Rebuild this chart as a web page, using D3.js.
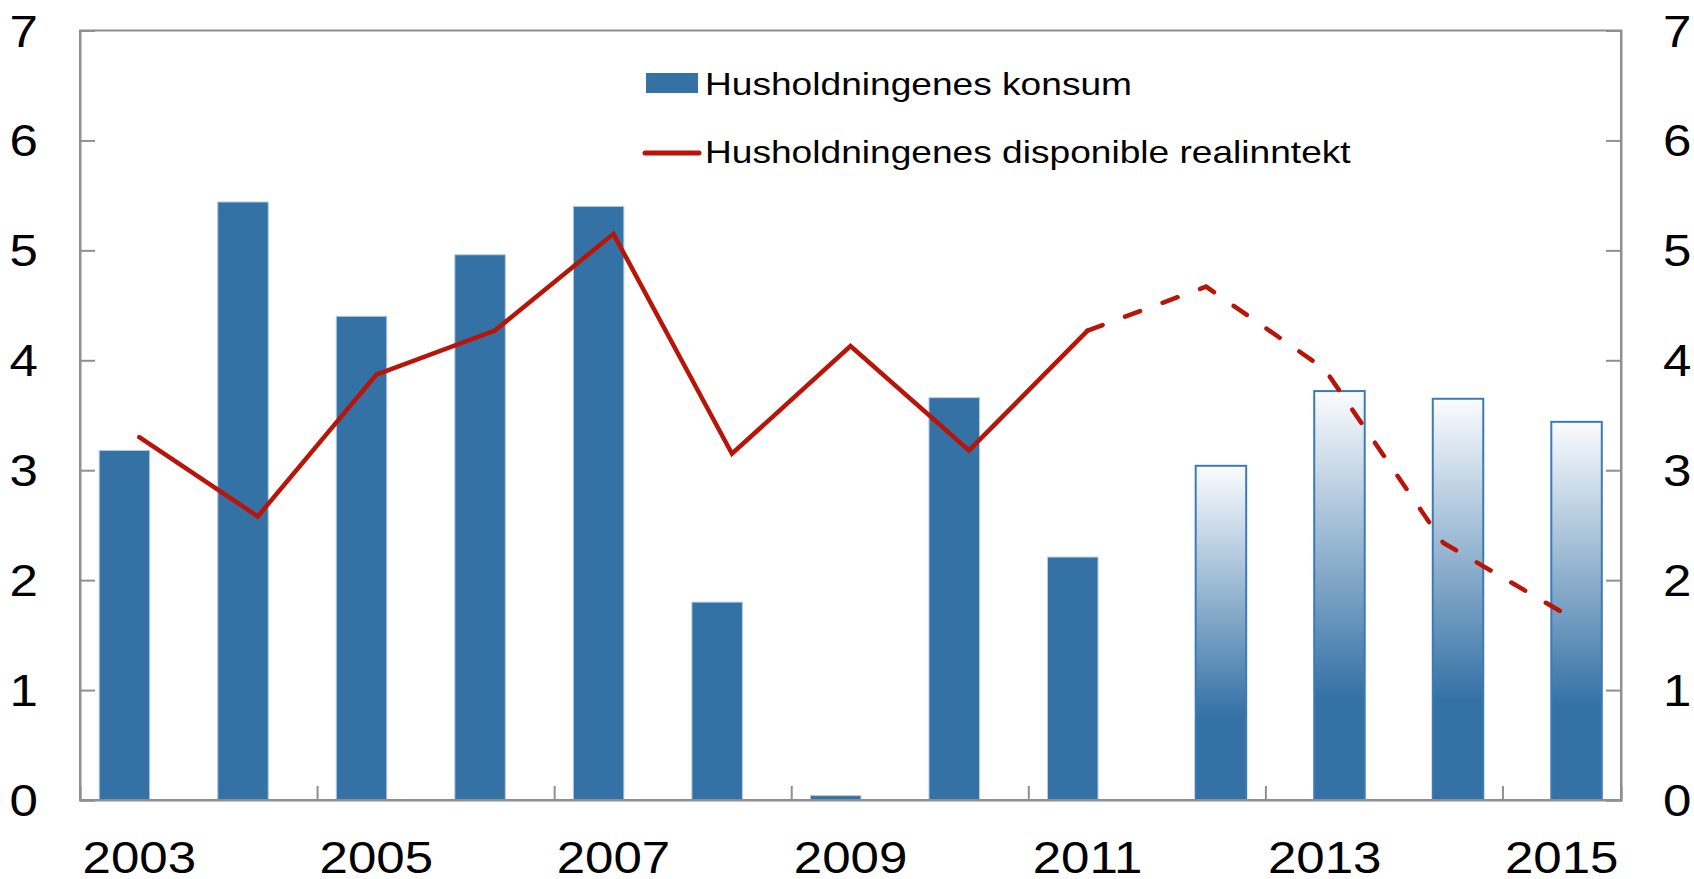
<!DOCTYPE html>
<html>
<head>
<meta charset="utf-8">
<script src="https://cdn.jsdelivr.net/npm/d3@7"></script>
<style>
  body { margin: 0; background: #fff; }
  text { font-family: "Liberation Sans", Arial, sans-serif; fill: #000; }
</style>
</head>
<body>
<div id="chart"></div>
<script>
// Data
var years = [2003, 2004, 2005, 2006, 2007, 2008, 2009, 2010, 2011, 2012, 2013, 2014, 2015];
var consumption = [3.18, 5.44, 4.40, 4.96, 5.40, 1.80, 0.04, 3.66, 2.21, 3.04, 3.72, 3.65, 3.44];
var realIncome = [3.30, 2.58, 3.87, 4.27, 5.15, 3.15, 4.13, 3.18, 4.27, 4.67, 3.92, 2.34, 1.71];
var lastActual = 2011;
var yTicks = [0, 1, 2, 3, 4, 5, 6, 7];
var xLabels = [2003, 2005, 2007, 2009, 2011, 2013, 2015];
var xTickMarks = [2004.5, 2006.5, 2008.5, 2010.5, 2012.5, 2014.5];
var seriesNames = ["Husholdningenes konsum", "Husholdningenes disponible realinntekt"];

var blue = "#3471a5",
    red = "#b81407",
    axisGray = "#8f8f8f",
    stretch = 1.16;  // reference text is a bit wider than Arial

var margin = {left: 80, right: 73, top: 30.5, bottom: 79};
var width = 1694 - margin.left - margin.right,
    height = 879 - margin.top - margin.bottom;

var svg = d3.select("#chart")
    .append("svg")
        .attr("width", 1694)
        .attr("height", 879);

var defs = svg.append("defs");
var grad = defs.append("linearGradient")
    .attr("id", "projFill")
    .attr("x1", 0).attr("y1", 0)
    .attr("x2", 0).attr("y2", 1);
grad.append("stop").attr("offset", 0).attr("stop-color", "#fbfcfe");
grad.append("stop").attr("offset", 0.75).attr("stop-color", blue);
grad.append("stop").attr("offset", 1).attr("stop-color", blue);

var chartGroup = svg.append("g")
    .attr("transform", `translate(${margin.left}, ${margin.top})`);

// Scales
var x = d3.scaleLinear()
    .domain([years[0] - 0.5, years[years.length - 1] + 0.5])
    .range([0, width]);

var y = d3.scaleLinear()
    .domain([0, 7])
    .range([height, 0]);

var step = x(1) - x(0);
var barWidth = step * 0.426;
var barShift = step * 0.125;

var rows = years.map((yr, i) => ({year: yr, cons: consumption[i], inc: realIncome[i]}));

// Bars: actual ones shifted left, projections shifted right
chartGroup.selectAll(".bar")
    .data(rows)
    .enter()
    .append("rect")
        .attr("class", "bar")
        .attr("x", d => x(d.year) + (d.year > lastActual ? barShift : -barShift) - barWidth / 2)
        .attr("y", d => y(d.cons))
        .attr("width", barWidth)
        .attr("height", d => y(0) - y(d.cons))
        .attr("fill", d => d.year > lastActual ? "url(#projFill)" : blue)
        .attr("stroke", d => d.year > lastActual ? "#3d7ab6" : "#b3cbe2")
        .attr("stroke-width", d => d.year > lastActual ? 2 : 1);

// Income line, solid then dashed
var line = d3.line()
    .x(d => x(d.year))
    .y(d => y(d.inc));

chartGroup.append("path")
    .datum(rows.filter(d => d.year <= lastActual))
    .attr("d", line)
    .attr("fill", "none")
    .attr("stroke", red)
    .attr("stroke-width", 4.5)
    .attr("stroke-linecap", "round");

chartGroup.append("path")
    .datum(rows.filter(d => d.year >= lastActual))
    .attr("d", line)
    .attr("fill", "none")
    .attr("stroke", red)
    .attr("stroke-width", 4.5)
    .attr("stroke-linecap", "round")
    .attr("stroke-dasharray", "16,24");

// Frame
chartGroup.append("rect")
    .attr("x", 0).attr("y", 0)
    .attr("width", width).attr("height", height)
    .attr("fill", "none")
    .attr("stroke", axisGray)
    .attr("stroke-width", 2);

// Axes (ticks point inward)
var leftAxis = d3.axisLeft(y).tickValues(yTicks).tickSize(-15).tickFormat("");
var rightAxis = d3.axisRight(y).tickValues(yTicks).tickSize(-15).tickFormat("");
var bottomAxis = d3.axisBottom(x).tickValues(xTickMarks).tickSize(-14).tickFormat("");

[chartGroup.append("g").call(leftAxis),
 chartGroup.append("g").attr("transform", `translate(${width}, 0)`).call(rightAxis),
 chartGroup.append("g").attr("transform", `translate(0, ${height})`).call(bottomAxis)]
    .forEach(function(g) {
        g.selectAll("path, line").attr("stroke", axisGray).attr("stroke-width", 2);
    });

// Tick labels
chartGroup.selectAll(".ylabL")
    .data(yTicks)
    .enter()
    .append("text")
        .attr("transform", d => `translate(-42, ${y(d) + 16}) scale(${stretch},1)`)
        .attr("text-anchor", "end")
        .attr("font-size", 44)
        .text(d => d);

chartGroup.selectAll(".ylabR")
    .data(yTicks)
    .enter()
    .append("text")
        .attr("transform", d => `translate(${width + 42}, ${y(d) + 16}) scale(${stretch},1)`)
        .attr("text-anchor", "start")
        .attr("font-size", 44)
        .text(d => d);

chartGroup.selectAll(".xlab")
    .data(xLabels)
    .enter()
    .append("text")
        .attr("transform", d => `translate(${x(d)}, ${height + 73}) scale(${stretch},1)`)
        .attr("text-anchor", "middle")
        .attr("font-size", 44)
        .text(d => d);

// Legend
var legend = svg.append("g");

legend.append("rect")
    .attr("x", 646).attr("y", 73)
    .attr("width", 52).attr("height", 20)
    .attr("fill", blue);

legend.append("line")
    .attr("x1", 645).attr("x2", 699)
    .attr("y1", 153).attr("y2", 153)
    .attr("stroke", red)
    .attr("stroke-width", 5)
    .attr("stroke-linecap", "round");

legend.selectAll(".legtext")
    .data(seriesNames)
    .enter()
    .append("text")
        .attr("transform", (d, i) => `translate(705, ${95 + i * 68}) scale(${stretch},1)`)
        .attr("font-size", 32)
        .text(d => d);
</script>
</body>
</html>
